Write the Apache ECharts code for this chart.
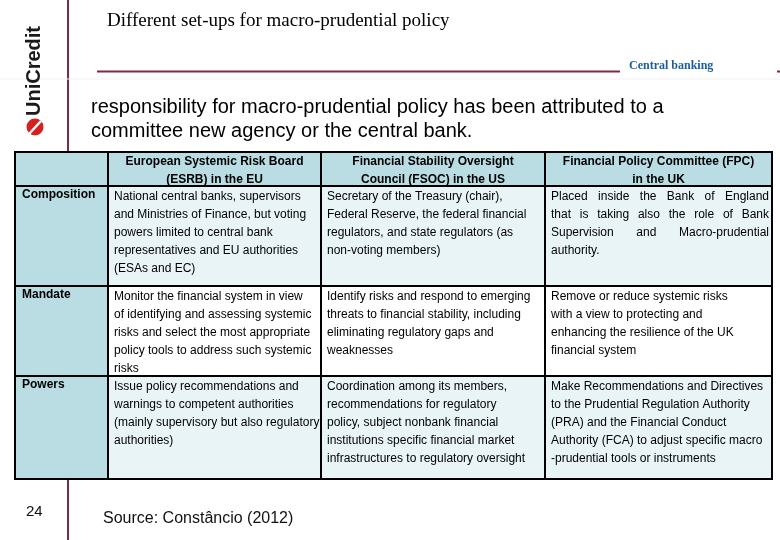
<!DOCTYPE html>
<html>
<head>
<meta charset="utf-8">
<script src="https://cdn.jsdelivr.net/npm/echarts@6/dist/echarts.min.js"></script>
<style>
  html, body { margin: 0; padding: 0; background: #fff; }
  #slide { width: 780px; height: 540px; }
</style>
</head>
<body>
<div id="slide"></div>
<script>
// slide texts
const slideTitle = 'Different set-ups for macro-prudential policy'
const sectionName = 'Central banking'
const introLines = [
  'responsibility for macro-prudential policy has been attributed to a',
  'committee new agency or the central bank.'
]
const pageNumber = '24'
const sourceNote = 'Source: Constâncio (2012)'

// table contents
const columnHeaders = [
  ['European Systemic Risk Board', '(ESRB) in the EU'],
  ['Financial Stability Oversight', 'Council (FSOC) in the US'],
  ['Financial Policy Committee (FPC)', 'in the UK']
]
const rowLabels = ['Composition', 'Mandate', 'Powers']
const esrbCells = [
  ['National central banks, supervisors', 'and Ministries of Finance, but voting', 'powers limited to central bank', 'representatives and EU authorities', '(ESAs and EC)'],
  ['Monitor the financial system in view', 'of identifying and assessing systemic', 'risks and select the most appropriate', 'policy tools to address such systemic', 'risks'],
  ['Issue policy recommendations and', 'warnings to competent authorities', '(mainly supervisory but also regulatory', 'authorities)']
]
const fsocCells = [
  ['Secretary of the Treasury (chair),', 'Federal Reserve, the federal financial', 'regulators, and state regulators (as', 'non-voting members)'],
  ['Identify risks and respond to emerging', 'threats to financial stability, including', 'eliminating regulatory gaps and', 'weaknesses'],
  ['Coordination among its members,', 'recommendations for regulatory', 'policy, subject nonbank financial', 'institutions specific financial market', 'infrastructures to regulatory oversight']
]
const fpcCells = [
  ['Placed inside the Bank of England', 'that is taking also the role of Bank', 'Supervision and Macro-prudential', 'authority.'],
  ['Remove or reduce systemic risks', 'with a view to protecting and', 'enhancing the resilience of the UK', 'financial system'],
  ['Make Recommendations and Directives', 'to the Prudential Regulation Authority', '(PRA) and the Financial Conduct', 'Authority (FCA) to adjust specific macro', '-prudential tools or instruments']
]

// layout
const colX = [15, 108, 321, 545, 772]
const rowY = [152, 186, 286, 376, 479]
const labelFill = '#b9dde3'
const paleFill = '#e9f4f7'
const maroon = '#7d2b44'
const cellFont = '12px "Liberation Sans", Arial, sans-serif'
const justified = { '2-0': true }   // column-row of justified cells

const measure = document.createElement('canvas').getContext('2d')
const textWidth = (s, font) => { measure.font = font; return measure.measureText(s).width }

const els = []
const txt = (x, y, text, font, extra) => els.push(Object.assign({
  type: 'text', x, y,
  style: Object.assign({ text, font, fill: '#000', textVerticalAlign: 'middle' }, extra || {})
}))

// header chrome
els.push({ type: 'line', shape: { x1: 68, y1: 0, x2: 68, y2: 152 }, style: { stroke: maroon, lineWidth: 2 } })
els.push({ type: 'line', shape: { x1: 68, y1: 479, x2: 68, y2: 540 }, style: { stroke: maroon, lineWidth: 2 } })
els.push({ type: 'line', shape: { x1: 0, y1: 79, x2: 780, y2: 79 }, style: { stroke: '#f2f2f2', lineWidth: 1 } })
els.push({ type: 'line', shape: { x1: 97, y1: 71.5, x2: 620, y2: 71.5 }, style: { stroke: maroon, lineWidth: 2 } })
els.push({ type: 'line', shape: { x1: 777, y1: 71.5, x2: 780, y2: 71.5 }, style: { stroke: maroon, lineWidth: 2 } })
els.push({
  type: 'text', x: 34, y: 71, rotation: Math.PI / 2,
  style: { text: 'UniCredit', font: 'bold 20px "Liberation Sans Narrow", "Liberation Sans", sans-serif', fill: '#1a1a1a', textAlign: 'center', textVerticalAlign: 'middle' }
})
els.push({ type: 'circle', shape: { cx: 35, cy: 127, r: 8.5 }, style: { fill: '#d6201f' } })
els.push({ type: 'line', shape: { x1: 29, y1: 134, x2: 41, y2: 121 }, style: { stroke: '#fff', lineWidth: 2.5 } })
txt(107, 21, slideTitle, '19px "Liberation Serif", "DejaVu Serif", serif')
txt(629, 66, sectionName, 'bold 12px "Liberation Serif", serif', { fill: '#1c5d9c' })
introLines.forEach((l, i) => txt(91, 107 + i * 24, l, '20px "Liberation Sans", Arial, sans-serif'))
txt(26, 512, pageNumber, '15px "Liberation Sans", Arial, sans-serif', { fill: '#111' })
txt(103, 519, sourceNote, '16px "Liberation Sans", Arial, sans-serif', { fill: '#111' })

// table backgrounds
const bodyCols = [esrbCells, fsocCells, fpcCells]
els.push({ type: 'rect', shape: { x: colX[0], y: rowY[0], width: colX[4] - colX[0], height: rowY[1] - rowY[0] }, style: { fill: labelFill } })
rowLabels.forEach((label, r) => {
  const y0 = rowY[r + 1], h = rowY[r + 2] - y0
  els.push({ type: 'rect', shape: { x: colX[0], y: y0, width: colX[1] - colX[0], height: h }, style: { fill: labelFill } })
  els.push({ type: 'rect', shape: { x: colX[1], y: y0, width: colX[4] - colX[1], height: h }, style: { fill: r === 1 ? '#fff' : paleFill } })
})

// grid lines
colX.forEach(x => els.push({ type: 'line', shape: { x1: x, y1: rowY[0], x2: x, y2: rowY[4] }, style: { stroke: '#000', lineWidth: 2 } }))
rowY.forEach(y => els.push({ type: 'line', shape: { x1: colX[0] - 1, y1: y, x2: colX[4] + 1, y2: y }, style: { stroke: '#000', lineWidth: 2 } }))

// header texts
columnHeaders.forEach((lines, c) => {
  const cx = (colX[c + 1] + colX[c + 2]) / 2
  lines.forEach((l, i) => txt(cx, rowY[0] + 10 + i * 18, l, 'bold ' + cellFont, { textAlign: 'center' }))
})

// row labels and body
rowLabels.forEach((label, r) => {
  txt(colX[0] + 7, rowY[r + 1] + 9, label, 'bold ' + cellFont)
  bodyCols.forEach((col, c) => {
    const left = colX[c + 1] + 6, right = colX[c + 2] - 3
    col[r].forEach((line, i) => {
      const y = rowY[r + 1] + 11 + i * 18
      if (justified[c + '-' + r] && i < col[r].length - 1) {
        const words = line.split(' ')
        const used = words.reduce((s, w) => s + textWidth(w, cellFont), 0)
        const gap = (right - left - used) / (words.length - 1)
        let x = left
        words.forEach(w => { txt(x, y, w, cellFont); x += textWidth(w, cellFont) + gap })
      } else {
        txt(left, y, line, cellFont)
      }
    })
  })
})

const chart = echarts.init(document.getElementById('slide'), null, { renderer: 'canvas' })
chart.setOption({ animation: false, backgroundColor: '#fff', graphic: { elements: els } })
</script>
</body>
</html>
